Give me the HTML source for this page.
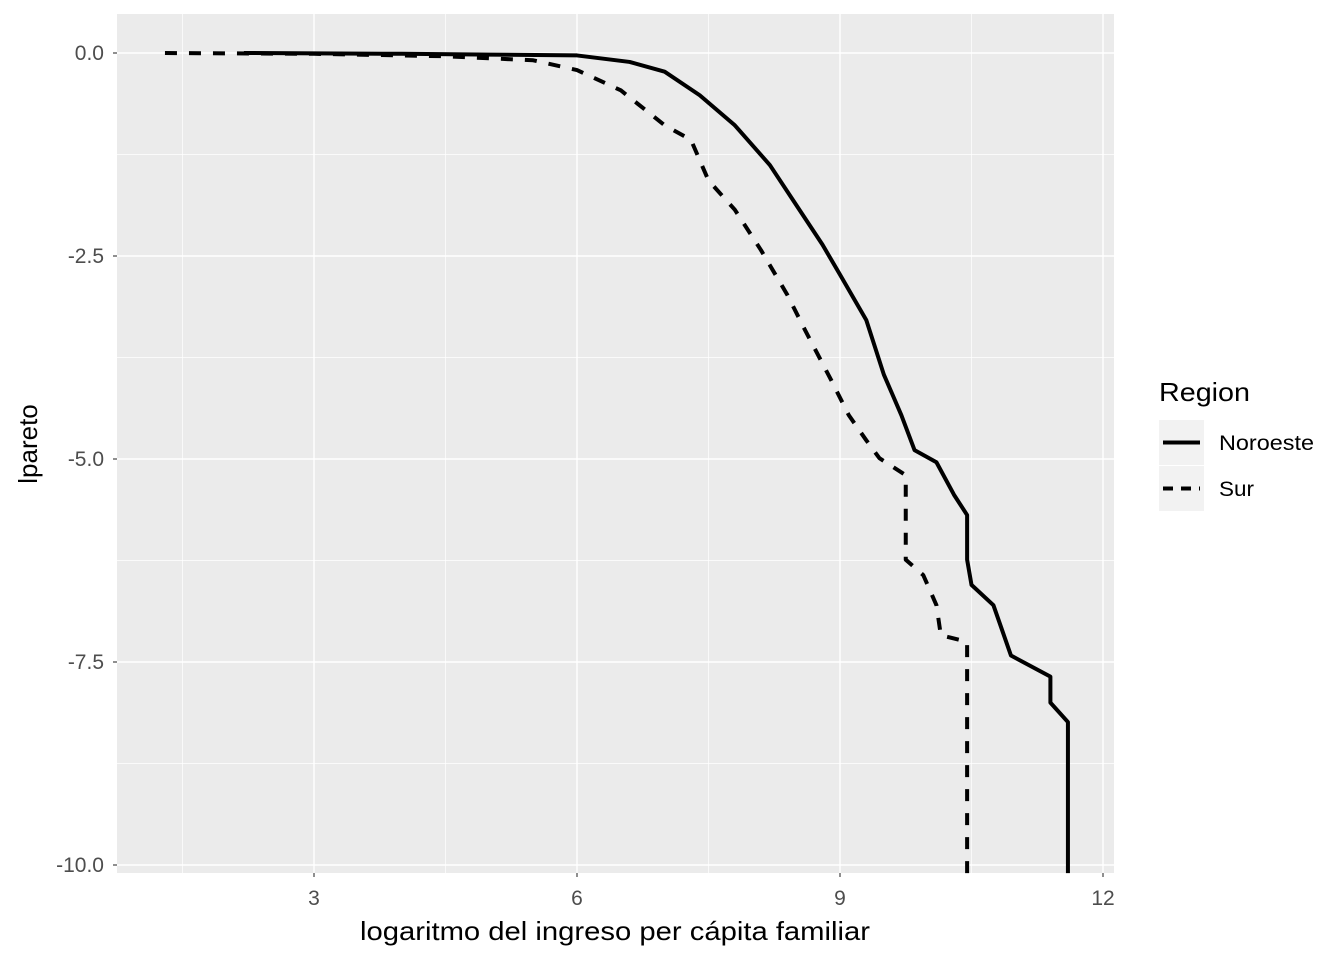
<!DOCTYPE html>
<html><head><meta charset="utf-8"><style>
body{margin:0;background:#fff;font-family:"Liberation Sans",Arial,sans-serif}
</style></head><body>
<svg width="1344" height="960" viewBox="0 0 1344 960" id="chart">
</svg>
<script>
const xTicks=[3,6,9,12];
const xMinor=[1.5,4.5,7.5,10.5];
const yTicks=[0,-2.5,-5,-7.5,-10];
const yTickLabels=["0.0","-2.5","-5.0","-7.5","-10.0"];
const yMinor=[-1.25,-3.75,-6.25,-8.75];
const norX=[2.2,4,5,6,6.6,7,7.4,7.8,8.2,8.5,8.8,9.0,9.3,9.5,9.7,9.85,10.1,10.3,10.45,10.45,10.5,10.75,10.85,10.95,11.4,11.4,11.6,11.6];
const norY=[0,-0.01,-0.02,-0.03,-0.11,-0.23,-0.52,-0.89,-1.38,-1.87,-2.36,-2.73,-3.29,-3.96,-4.46,-4.89,-5.04,-5.44,-5.69,-6.24,-6.55,-6.80,-7.11,-7.42,-7.68,-8.0,-8.24,-10.1];
const surX=[1.3,3,4.5,5.5,6,6.5,7,7.3,7.5,7.8,8.1,8.4,8.6,8.9,9.1,9.3,9.45,9.75,9.75,9.95,10.1,10.15,10.45,10.45];
const surY=[0,-0.01,-0.04,-0.09,-0.21,-0.46,-0.89,-1.07,-1.57,-1.93,-2.43,-2.98,-3.41,-4.03,-4.46,-4.77,-4.99,-5.2,-6.24,-6.43,-6.8,-7.17,-7.25,-10.1];
const svg=document.getElementById('chart');
const NS='http://www.w3.org/2000/svg';
const L=117,R=1114,T=14,B=873;
const sx=v=>314+(v-3)*(263/3);
const sy=v=>53-v*81.2;
function mk(tag,attrs,parent){const e=document.createElementNS(NS,tag);for(const k in attrs)e.setAttribute(k,attrs[k]);(parent||svg).appendChild(e);return e;}
const panel=mk('rect',{x:L,y:T,width:R-L,height:B-T,fill:'#ebebeb'});


xMinor.forEach(v=>{const l=mk('line',{x1:sx(v),x2:sx(v),y1:T,y2:B,stroke:'#fff','stroke-width':0.7});});
yMinor.forEach(v=>{const l=mk('line',{x1:L,x2:R,y1:sy(v),y2:sy(v),stroke:'#fff','stroke-width':0.7});});
xTicks.forEach(v=>{const l=mk('line',{x1:sx(v),x2:sx(v),y1:T,y2:B,stroke:'#fff','stroke-width':1.4});
 const t=mk('line',{x1:sx(v),x2:sx(v),y1:B,y2:B+4,stroke:'#333','stroke-width':1.1});
 const tx=mk('text',{x:sx(v),y:B+32,'text-anchor':'middle','font-size':21,fill:'#4d4d4d'});tx.textContent=v;});
yTicks.forEach((v,i)=>{const l=mk('line',{x1:L,x2:R,y1:sy(v),y2:sy(v),stroke:'#fff','stroke-width':1.4});
 const t=mk('line',{x1:L-4,x2:L,y1:sy(v),y2:sy(v),stroke:'#333','stroke-width':1.1});
 const tx=mk('text',{x:L-13,y:sy(v)+7,'text-anchor':'end','font-size':21,fill:'#4d4d4d'});tx.textContent=yTickLabels[i];});
function line(xs,ys,dash,name){const p=mk('polyline',{points:xs.map((x,i)=>sx(x)+','+sy(ys[i])).join(' '),fill:'none',stroke:'#000','stroke-width':4,'stroke-dasharray':dash||'none','stroke-linejoin':'round'});}
line(norX,norY,null,'series-noroeste');
line(surX,surY,'12,12','series-sur');
const xt=mk('text',{x:360,y:940,'font-size':26,textLength:510,lengthAdjust:'spacingAndGlyphs',fill:'#000'});xt.textContent='logaritmo del ingreso per cápita familiar';
const yt=mk('text',{x:0,y:0,'text-anchor':'middle','font-size':26,fill:'#000',transform:'translate(37,444) rotate(-90)'});yt.textContent='lpareto';
const lt=mk('text',{x:1159,y:401,'font-size':26,textLength:91,lengthAdjust:'spacingAndGlyphs',fill:'#000'});lt.textContent='Region';
[['Noroeste',null,420,95],['Sur','10,8',466,35]].forEach(([n,d,y,w])=>{
 const g=mk('g',{});
 mk('rect',{x:1159,y:y,width:45,height:45,fill:'#f2f2f2'},g);
 mk('line',{x1:1163,x2:1200,y1:y+22.5,y2:y+22.5,stroke:'#000','stroke-width':4,'stroke-dasharray':d||'none'},g);
 const t=mk('text',{x:1219,y:y+30,'font-size':21,textLength:w,lengthAdjust:'spacingAndGlyphs',fill:'#000'},g);t.textContent=n;});
</script>
</body></html>
